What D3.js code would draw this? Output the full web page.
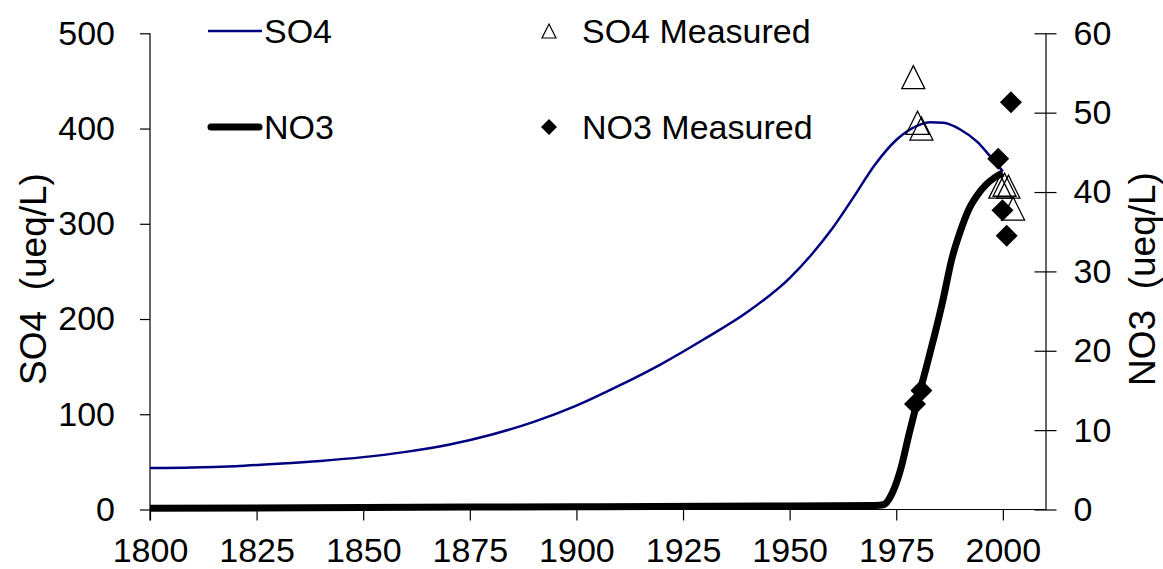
<!DOCTYPE html>
<html>
<head>
<meta charset="utf-8">
<script src="https://cdn.jsdelivr.net/npm/d3@7"></script>
<style>
  html, body { margin: 0; padding: 0; background: #fff; }
  svg { display: block; font-family: "Liberation Sans", Arial, sans-serif; }
  text { white-space: pre; }
</style>
</head>
<body>
<svg id="chart" width="1163" height="569"></svg>
<script>
// ---- data ----
const so4Years  = [1800, 1810, 1820, 1830, 1840, 1850, 1860, 1870, 1880, 1890, 1900, 1910, 1920, 1930, 1940, 1950, 1955, 1960, 1965, 1970, 1975, 1980, 1983, 1986, 1990, 1994, 1997, 2000];
const so4Values = [43.5, 44, 45.5, 48, 51, 55, 60.5, 68, 78.5, 92, 109, 130, 153, 179, 207, 243, 267, 295, 328, 362, 388, 403, 406.5, 406, 399, 386, 371, 355];

const no3Years  = [1800, 1850, 1900, 1950, 1970, 1972, 1974, 1976, 1978, 1980, 1982, 1984, 1986, 1988, 1990, 1992, 1994, 1996, 1998, 2000];
const no3Values = [0.15, 0.25, 0.35, 0.45, 0.5, 0.6, 2.0, 5.0, 9.5, 13.8, 17.8, 22.0, 26.5, 31.5, 35.0, 37.8, 39.6, 40.9, 41.8, 42.4];

const so4MeasYears  = [1979.0, 1980.0, 1980.9, 1999.4, 2000.4, 2001.3, 2002.4];
const so4MeasValues = [454, 406, 400, 339, 341, 339, 316];

const no3MeasYears  = [1979.4, 1980.9, 1998.9, 1999.9, 2000.9, 2001.9];
const no3MeasValues = [13.3, 15.0, 44.2, 37.7, 34.5, 51.3];

const xTicks  = [1800, 1825, 1850, 1875, 1900, 1925, 1950, 1975, 2000];
const yLTicks = [0, 100, 200, 300, 400, 500];
const yRTicks = [0, 10, 20, 30, 40, 50, 60];

const legendLabels = ["SO4", "NO3", "SO4 Measured", "NO3 Measured"];
const leftTitle  = "SO4  (ueq/L)";
const rightTitle = "NO3  (ueq/L)";

// ---- layout ----
const svg = d3.select("#chart");
const FS = 34;
const TFS = 37;
const x  = d3.scaleLinear().domain([1800, 2010]).range([150, 1045.5]);
const yL = d3.scaleLinear().domain([0, 500]).range([509.5, 33.3]);
const yR = d3.scaleLinear().domain([0, 60]).range([509.5, 33.3]);

// axes
const gB = svg.append("g").attr("transform", `translate(0,${yL(0)})`)
  .call(d3.axisBottom(x).tickValues(xTicks).tickFormat(d3.format("d")).tickSize(11).tickSizeOuter(0).tickPadding(17));
const gL = svg.append("g").attr("transform", `translate(${x(1800)},0)`)
  .call(d3.axisLeft(yL).tickValues(yLTicks).tickSize(10).tickSizeOuter(0).tickPadding(25));
const gR = svg.append("g").attr("transform", `translate(${x(2010)},0)`)
  .call(d3.axisRight(yR).tickValues(yRTicks).tickSize(11).tickSizeOuter(0).tickPadding(17));
gR.selectAll(".tick line").attr("x1", -11);
gL.select(".domain").attr("d", `M0,${yL(500)}V${yL(0) + 11}`);
gB.select(".domain").attr("d", `M${x(1800)},0H${x(2010)}`);

[gB, gL, gR].forEach(g => {
  g.selectAll("text").attr("font-size", FS).attr("font-family", "Liberation Sans, Arial, sans-serif").attr("fill", "#000");
  g.selectAll("line").attr("stroke", "#000").attr("stroke-width", 1.2);
  g.select(".domain").attr("stroke", "#000").attr("stroke-width", 1.2);
});

// axis titles
svg.append("text").attr("transform", `translate(46,279) rotate(-90)`)
  .attr("text-anchor", "middle").attr("font-size", TFS).text(leftTitle);
svg.append("text").attr("transform", `translate(1155,279) rotate(-90)`)
  .attr("text-anchor", "middle").attr("font-size", TFS).text(rightTitle);

// lines
const so4Line = d3.line().x((d, i) => x(so4Years[i])).y(d => yL(d)).curve(d3.curveMonotoneX);
const no3Line = d3.line().x((d, i) => x(no3Years[i])).y(d => yR(d)).curve(d3.curveMonotoneX);

svg.append("path").attr("d", no3Line(no3Values)).attr("fill", "none")
  .attr("stroke", "#000").attr("stroke-width", 7).attr("stroke-linejoin", "round").attr("stroke-linecap", "butt");
svg.append("path").attr("d", so4Line(so4Values)).attr("fill", "none")
  .attr("stroke", "#000080").attr("stroke-width", 2.5).attr("stroke-linejoin", "round");

// markers
function triPath(s) { return `M0,${-s}L${s},${s}L${-s},${s}Z`; }
function diaPath(s) { return `M0,${-s}L${s},0L0,${s}L${-s},0Z`; }

svg.append("g").selectAll("path").data(so4MeasValues).join("path")
  .attr("transform", (d, i) => `translate(${x(so4MeasYears[i])},${yL(d)})`)
  .attr("d", triPath(11.5)).attr("fill", "none").attr("stroke", "#000").attr("stroke-width", 1.3);
svg.append("g").selectAll("path").data(no3MeasValues).join("path")
  .attr("transform", (d, i) => `translate(${x(no3MeasYears[i])},${yR(d)})`)
  .attr("d", diaPath(11)).attr("fill", "#000");

// legend
const lg = svg.append("g");
lg.append("line").attr("x1", 208).attr("x2", 262).attr("y1", 31).attr("y2", 31)
  .attr("stroke", "#000080").attr("stroke-width", 2.5);
lg.append("line").attr("x1", 211).attr("x2", 259).attr("y1", 127).attr("y2", 127)
  .attr("stroke", "#000").attr("stroke-width", 7).attr("stroke-linecap", "round");
lg.append("path").attr("transform", "translate(549,31)").attr("d", triPath(7))
  .attr("fill", "none").attr("stroke", "#000").attr("stroke-width", 1.2);
lg.append("path").attr("transform", "translate(549,127)").attr("d", diaPath(8)).attr("fill", "#000");
const legPos = [[264, 31], [264, 127], [582, 31], [582, 127]];
lg.selectAll("text").data(legendLabels).join("text")
  .attr("x", (d, i) => legPos[i][0]).attr("y", (d, i) => legPos[i][1])
  .attr("dy", "0.35em").attr("font-size", FS).text(d => d);
</script>
</body>
</html>
